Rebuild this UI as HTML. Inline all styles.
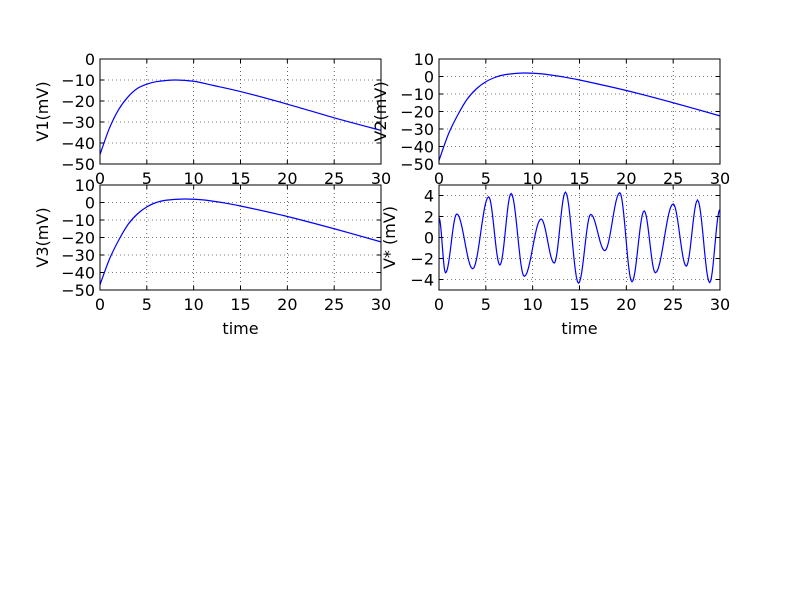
<!DOCTYPE html>
<html><head><meta charset="utf-8"><style>
body{margin:0;background:#fff;}
svg text{font-family:"DejaVu Sans","Liberation Sans",sans-serif;font-size:16px;fill:#000;}
</style></head><body>
<svg id="fig" width="800" height="600" viewBox="0 0 800 600" xmlns="http://www.w3.org/2000/svg"></svg>
<script>
const xTicks=[0,5,10,15,20,25,30];
const v1T=[0,1,2,3,4,5,6,8,10,12,15,20,25,30];
const v1V=[-45.5,-33,-24,-18,-14,-12,-10.8,-10,-10.6,-12.5,-15.5,-21.5,-28,-34];
const v2T=[0,1,2,3,4,5,6,7,9,11,13,15,20,25,30];
const v2V=[-48,-33,-22,-13,-7,-3,-0.5,1,2,1.5,0,-2,-8,-15,-22.5];
const v3V=[-47,-32.5,-21.5,-12.5,-6.5,-2.5,0,1.3,2,1.5,0,-2,-8,-15,-22.5];
const vsT=[0,0.7,1.9,3.6,5.3,6.5,7.7,9.1,10.9,12.3,13.5,14.9,16.2,17.7,19.3,20.6,21.9,23.1,25.0,26.4,27.6,28.9,30];
const vsV=[1.86,-3.36,2.24,-2.98,3.87,-2.62,4.19,-3.7,1.76,-2.43,4.32,-4.35,2.2,-1.25,4.26,-4.22,2.53,-3.36,3.2,-2.72,3.55,-4.29,2.66];
const yT1=[0,-10,-20,-30,-40,-50];
const yT2=[10,0,-10,-20,-30,-40,-50];
const yT4=[4,2,0,-2,-4];
const NS="http://www.w3.org/2000/svg";
const fig=document.getElementById('fig');
function mk(tag,attrs,parent){const e=document.createElementNS(NS,tag);for(const k in attrs)e.setAttribute(k,attrs[k]);(parent||fig).appendChild(e);return e;}
function fmt(v){return v<0?'\u2212'+(-v):''+v;}
function catmull(pts){let d='M'+pts[0][0]+','+pts[0][1];for(let i=0;i<pts.length-1;i++){const p0=pts[Math.max(0,i-1)],p1=pts[i],p2=pts[i+1],p3=pts[Math.min(pts.length-1,i+2)];d+=' C'+(p1[0]+(p2[0]-p0[0])/6)+','+(p1[1]+(p2[1]-p0[1])/6)+' '+(p2[0]-(p3[0]-p1[0])/6)+','+(p2[1]-(p3[1]-p1[1])/6)+' '+p2[0]+','+p2[1];}return d;}
function panel(name,x0,y0,w,h,ymin,ymax,yTicks,ts,vs,ylabel,ylx,xlabel,cosine){
  const g=mk('g',{});
  
  
  const X=t=>x0+t/30*w, Y=v=>y0+(ymax-v)/(ymax-ymin)*h;
  xTicks.forEach(t=>{const l=mk('line',{x1:X(t),x2:X(t),y1:y0,y2:y0+h,stroke:'#000','stroke-width':0.6,'stroke-dasharray':'1,3'},g);
    mk('line',{x1:X(t),x2:X(t),y1:y0+h,y2:y0+h-4,stroke:'#000'},g);mk('line',{x1:X(t),x2:X(t),y1:y0,y2:y0+4,stroke:'#000'},g);
    const tx=mk('text',{x:X(t),y:y0+h+20,'text-anchor':'middle'},g);tx.textContent=t;});
  yTicks.forEach(v=>{const l=mk('line',{x1:x0,x2:x0+w,y1:Y(v),y2:Y(v),stroke:'#000','stroke-width':0.6,'stroke-dasharray':'1,3'},g);
    mk('line',{x1:x0,x2:x0+4,y1:Y(v),y2:Y(v),stroke:'#000'},g);mk('line',{x1:x0+w,x2:x0+w-4,y1:Y(v),y2:Y(v),stroke:'#000'},g);
    const tx=mk('text',{x:x0-5,y:Y(v)+6,'text-anchor':'end'},g);tx.textContent=fmt(v);});
  let d;
  if(cosine){d='';for(let i=0;i<ts.length-1;i++){for(let k=0;k<=12;k++){const f=k/12,t=ts[i]+(ts[i+1]-ts[i])*f,v=vs[i]+(vs[i+1]-vs[i])*(1-Math.cos(Math.PI*f))/2;d+=(d?'L':'M')+X(t).toFixed(2)+','+Y(v).toFixed(2);}}}
  else d=catmull(ts.map((t,i)=>[X(t),Y(vs[i])]));
  const p=mk('path',{d:d,fill:'none',stroke:'#0000ff','stroke-width':1.2},g);
  
  
  const r=mk('rect',{x:x0,y:y0,width:w,height:h,fill:'none',stroke:'#000','stroke-width':1},g);
  
  
  const yl=mk('text',{x:ylx,y:y0+h/2,'text-anchor':'middle',transform:'rotate(-90 '+ylx+' '+(y0+h/2)+')'},g);yl.textContent=ylabel;
  
  
  if(xlabel){const xl=mk('text',{x:x0+w/2,y:y0+h+44,'text-anchor':'middle'},g);xl.textContent=xlabel;
    
    }
}
panel('v1-panel',100,59,281,105,-50,0,yT1,v1T,v1V,'V1(mV)',48,null,false);
panel('v2-panel',439,59,281,105,-50,10,yT2,v2T,v2V,'V2(mV)',386,null,false);
panel('v3-panel',100,185,281,105,-50,10,yT2,v2T,v3V,'V3(mV)',48,'time',false);
panel('vstar-panel',439,185,281,105,-5,5,yT4,vsT,vsV,'V* (mV)',395,'time',true);
</script>
</body></html>
